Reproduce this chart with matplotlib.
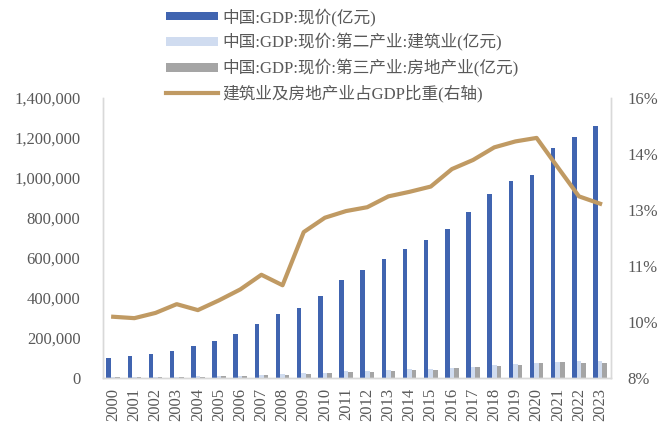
import matplotlib.pyplot as plt
import matplotlib.ticker as mticker
import numpy as np

years = [str(y) for y in range(2000, 2024)]
gdp = [100280, 110863, 121717, 137422, 161840, 187319, 219439, 270092,
       319245, 348518, 412119, 487940, 538580, 592963, 643563, 688858,
       746395, 832036, 919281, 986515, 1015986, 1149237, 1204724, 1260582]
construction = [5522, 5931, 6465, 7490, 8720, 10400, 12450, 15348,
                18807, 22681, 27259, 32926, 36896, 40897, 44881, 46627,
                49703, 55689, 65493, 70648, 72996, 78741, 83383, 85691]
real_estate = [4149, 4715, 5347, 6172, 7174, 8517, 10370, 13810,
               14739, 18967, 23569, 28168, 31248, 35988, 38001, 41701,
               48191, 53850, 59846, 65361, 72754, 77561, 73821, 73723]
ratio = [9.75, 9.71, 9.86, 10.11, 9.94, 10.22, 10.53, 10.95,
         10.65, 12.17, 12.58, 12.77, 12.88, 13.19, 13.32, 13.47,
         13.97, 14.23, 14.59, 14.76, 14.86, 14.02, 13.19, 12.98]

labels = ["中国:GDP:现价(亿元)",
          "中国:GDP:现价:第二产业:建筑业(亿元)",
          "中国:GDP:现价:第三产业:房地产业(亿元)",
          "建筑业及房地产业占GDP比重(右轴)"]

serif = ['Liberation Serif', 'Noto Sans CJK SC']
plt.rcParams['font.family'] = serif
tick_color = '#595959'
spine_color = '#d9d9d9'

fig = plt.figure(figsize=(6.62, 4.28), dpi=100)
ax = fig.add_axes([0.155, 0.1168, 0.7675, 0.6542])

x = np.arange(len(years))
w = 0.215
b1 = ax.bar(x - w, gdp, w, color='#4064b0')
b2 = ax.bar(x, construction, w, color='#d0dcf0')
b3 = ax.bar(x + w, real_estate, w, color='#a5a5a5')

ax.set_xlim(-0.5, len(years) - 0.5)
ax.set_ylim(0, 1400000)
ax.set_yticks(np.arange(0, 1400001, 200000))
ax.yaxis.set_major_formatter(mticker.FuncFormatter(lambda v, p: f'{int(v):,}'))
ax.set_xticks(x)
ax.set_xticklabels(years, rotation=90)
ax.tick_params(axis='y', length=0, pad=16, labelsize=12, labelcolor=tick_color)
ax.tick_params(axis='x', length=0, pad=7, labelsize=12, labelcolor=tick_color)

ax2 = ax.twinx()
ln, = ax2.plot(x, ratio, color='#c09a63', lw=3, solid_joinstyle='round')
ax2.set_ylim(8, 16)
ax2.set_yticks(np.linspace(8, 16, 6))
ax2.yaxis.set_major_formatter(mticker.FuncFormatter(lambda v, p: f'{v:.0f}%'))
ax2.tick_params(axis='y', length=0, pad=12, labelsize=12, labelcolor=tick_color)

for a in (ax, ax2):
    a.spines['top'].set_visible(False)
    for s in ('left', 'right', 'bottom'):
        a.spines[s].set_color(spine_color)
        a.spines[s].set_linewidth(1)

fig.legend([b1, b2, b3, ln], labels, loc='upper left',
           bbox_to_anchor=(166 / 662, 1 - 8 / 428), frameon=False,
           borderaxespad=0, borderpad=0, handlelength=3.1, handleheight=0.45,
           handletextpad=0.3, labelspacing=0.45,
           prop={'family': serif, 'size': 12}, labelcolor=tick_color)

fig.savefig('out.png', dpi=100)
